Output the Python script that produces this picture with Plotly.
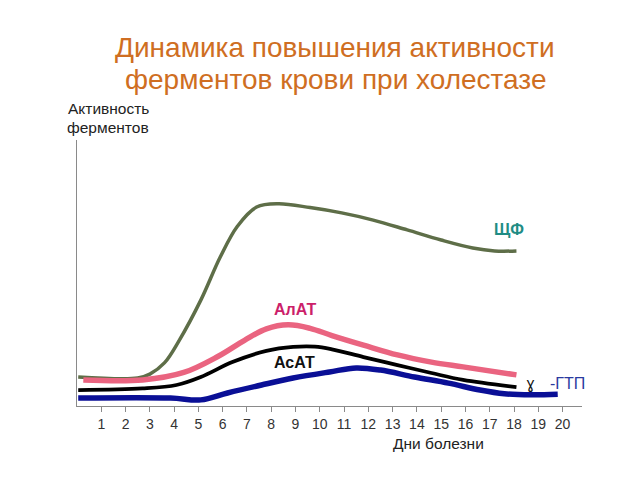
import plotly.graph_objects as go

# Days of illness (x) and enzyme activity (relative units, 0-100)
shf_days = [0.05, 2.5, 3.0, 3.6, 4.2, 5.1, 5.9, 6.6, 7.4, 8.3, 9.6, 10.9, 12.2, 13.6, 15.0, 16.3, 17.2, 18.1]
shf_vals = [10.9, 10.5, 12.0, 16.2, 24.5, 39.8, 56.0, 67.5, 74.8, 76.0, 74.6, 72.6, 69.9, 66.2, 62.4, 59.4, 58.3, 58.3]

alat_days = [0.26, 2.7, 4.4, 5.8, 6.9, 7.8, 8.7, 9.6, 10.5, 11.8, 13.2, 14.6, 15.9, 18.1]
alat_vals = [9.8, 9.8, 12.6, 18.6, 24.7, 29.0, 30.5, 29.2, 26.5, 22.9, 19.2, 16.5, 14.7, 11.7]

asat_days = [0.05, 2.7, 4.1, 5.1, 6.4, 7.8, 8.9, 9.8, 10.5, 11.8, 13.2, 14.6, 15.9, 18.1]
asat_vals = [6.0, 6.6, 7.9, 10.9, 16.5, 20.7, 22.2, 22.3, 21.3, 18.4, 15.4, 12.4, 9.8, 7.1]

ggt_days = [0.05, 3.85, 5.1, 6.2, 7.6, 8.9, 10.4, 11.5, 12.5, 13.9, 15.3, 16.6, 17.6, 18.7, 19.8]
ggt_vals = [3.0, 3.0, 2.3, 4.9, 7.9, 10.5, 12.8, 14.3, 13.5, 10.9, 8.6, 6.0, 4.6, 4.2, 4.4]

day_ticks = list(range(1, 21))
day_labels = [str(d) for d in day_ticks]

fig = go.Figure()
fig.add_trace(go.Scatter(x=shf_days, y=shf_vals, mode="lines", line=dict(color="#5e6e48", width=3.5, shape="spline", smoothing=1.0), name="ЩФ"))
fig.add_trace(go.Scatter(x=alat_days, y=alat_vals, mode="lines", line=dict(color="#ea6480", width=5.5, shape="spline", smoothing=1.0), name="АлАТ"))
fig.add_trace(go.Scatter(x=asat_days, y=asat_vals, mode="lines", line=dict(color="#000000", width=3.8, shape="spline", smoothing=1.0), name="АсАТ"))
fig.add_trace(go.Scatter(x=ggt_days, y=ggt_vals, mode="lines", line=dict(color="#0a0f96", width=5.5, shape="spline", smoothing=1.0), name="γ-ГТП"))

font_main = "Liberation Sans, Arial, sans-serif"

W, H = 640, 480
ML, MR, MT, MB = 77, 58, 140, 74
PW, PH = W - ML - MR, H - MT - MB


def px_to_paper(px, py):
    return (px - ML) / PW, (H - MB - py) / PH


fig.update_layout(
    width=W, height=H,
    margin=dict(l=ML, r=MR, t=MT, b=MB),
    plot_bgcolor="white", paper_bgcolor="white",
    showlegend=False,
    font=dict(family=font_main, size=14, color="#222222"),
    xaxis=dict(
        range=[0, 20.8], showgrid=False, zeroline=False,
        showline=True, linecolor="#8a8a8a", linewidth=1,
        tickmode="array", tickvals=day_ticks, ticktext=day_labels,
        ticks="outside", ticklen=5, tickcolor="#8a8a8a",
        tickfont=dict(size=14, color="#333333"),
    ),
    yaxis=dict(
        range=[0, 100], showgrid=False, zeroline=False,
        showline=True, linecolor="#8a8a8a", linewidth=1,
        showticklabels=False, ticks="",
    ),
)

annotations = [
    dict(text="ЩФ", x=17.78, y=66.5, xref="x", yref="y", showarrow=False,
         font=dict(size=16, color="#1f8c84", family=font_main, weight="bold")),
    dict(text="АлАТ", x=8.96, y=36.1, xref="x", yref="y", showarrow=False,
         font=dict(size=16, color="#cc1f6a", family=font_main, weight="bold")),
    dict(text="АсАТ", x=8.96, y=16.2, xref="x", yref="y", showarrow=False,
         font=dict(size=16, color="#111111", family=font_main, weight="bold")),
    dict(text="ɣ", x=18.68, y=8.3, xref="x", yref="y", showarrow=False,
         font=dict(size=15, color="#111111", family="DejaVu Sans")),
    dict(text="-ГТП", x=20.2, y=8.3, xref="x", yref="y", showarrow=False,
         font=dict(size=16, color="#2a3aa0", family=font_main)),
]

texts = [
    ("Динамика повышения активности", 335, 47, 28, "#cf6e22"),
    ("ферментов крови при холестазе", 335, 80, 28, "#cf6e22"),
    ("Активность", 108, 108, 15.5, "#222222"),
    ("ферментов", 108, 128, 15.5, "#222222"),
    ("Дни болезни", 438, 443, 15.5, "#222222"),
]
for t, px, py, sz, col in texts:
    xp, yp = px_to_paper(px, py)
    annotations.append(dict(text=t, x=xp, y=yp, xref="paper", yref="paper",
                            xanchor="center", yanchor="middle", showarrow=False,
                            font=dict(size=sz, color=col, family=font_main)))

fig.update_layout(annotations=annotations)

fig.write_html("out.html")
